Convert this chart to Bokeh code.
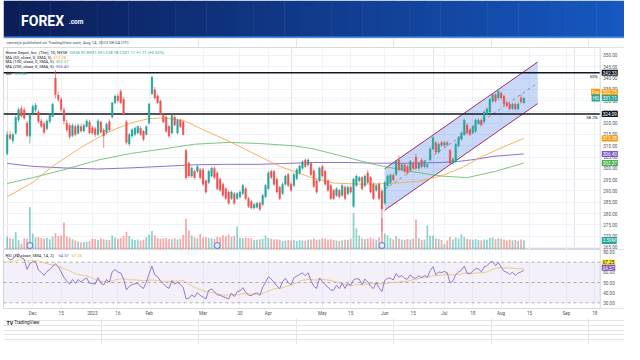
import numpy as np
import pandas as pd
from bokeh.plotting import figure
from bokeh.layouts import column
from bokeh.models import (Range1d, FixedTicker, SingleIntervalTicker, NumeralTickFormatter,
                          Label, Span, Grid, BoxAnnotation)
from bokeh.embed import file_html
from bokeh.resources import INLINE
from bokeh.core.properties import value

# ---------------- data ----------------
first_day = "2022-11-17"
last_axis_day = "2023-09-29"
holidays = ["2022-11-24", "2022-12-26", "2023-01-02", "2023-01-16", "2023-02-20",
            "2023-04-07", "2023-05-29", "2023-06-19", "2023-07-04", "2023-09-04"]

opens = [306.5, 315.0, 312.2, 315.5, 321.5, 326.5, 325.8, 320.0, 314.2, 324.5,
         325.8, 325.0, 321.0, 319.8, 317.5, 320.8, 323.0, 340.0, 332.5, 330.5,
         326.0, 320.0, 319.0, 314.5, 318.5, 315.5, 318.5, 316.5, 318.5, 320.5,
         318.0, 317.5, 315.0, 320.5, 317.0, 316.0, 320.6, 322.7, 329.0, 332.0,
         334.0, 330.5, 320.6, 310.8, 314.3, 315.0, 315.7, 317.8, 316.4, 315.0,
         320.0, 333.0, 334.8, 332.0, 329.8, 323.5, 322.7, 318.5, 315.7, 322.7,
         315.7, 321.3, 320.6, 307.9, 302.3, 296.6, 298.7, 298.7, 299.4, 299.4,
         294.5, 293.8, 296.6, 300.0, 298.0, 295.2, 293.0, 291.0, 289.5, 286.7,
         288.8, 286.7, 287.4, 288.9, 291.0, 286.7, 285.3, 282.5, 282.8, 284.6,
         284.0, 287.4, 291.0, 298.7, 298.7, 295.2, 291.7, 288.9, 293.0, 297.3,
         293.0, 292.4, 295.5, 298.0, 300.1, 303.7, 301.5, 302.3, 299.0, 294.5,
         294.5, 300.8, 298.7, 294.5, 292.4, 290.3, 288.0, 290.3, 288.1, 291.7,
         288.8, 291.7, 283.2, 292.4, 294.5, 296.0, 292.4, 298.0, 296.0, 293.0,
         290.3, 293.0, 290.0, 284.6, 292.4, 293.8, 297.0, 297.3, 303.7, 299.4,
         301.6, 300.8, 299.4, 302.3, 305.0, 300.1, 303.7, 300.8, 300.8, 303.7,
         308.6, 311.4, 307.2, 311.5, 310.2, 311.4, 308.0, 302.3, 303.0, 310.0,
         312.9, 315.0, 319.2, 317.0, 315.7, 316.4, 320.0, 321.3, 320.6, 324.2,
         324.9, 329.8, 332.6, 331.2, 333.3, 331.9, 329.1, 328.4, 326.5, 328.4,
         326.3, 331.2, 328.9]
highs = [316.4, 316.5, 315.8, 323.5, 327.0, 327.8, 327.0, 321.0, 324.6, 328.2,
         329.0, 326.0, 322.0, 320.5, 321.8, 324.5, 329.0, 343.5, 334.0, 331.5,
         327.0, 321.5, 319.8, 319.8, 319.5, 319.8, 319.6, 319.8, 321.8, 321.5,
         318.8, 318.5, 321.8, 321.2, 317.8, 320.2, 321.5, 329.5, 332.6, 333.0,
         335.0, 331.5, 321.5, 315.6, 317.8, 318.5, 319.0, 318.6, 317.0, 319.0,
         329.0, 341.0, 336.0, 333.0, 330.5, 324.5, 323.5, 319.2, 324.2, 323.5,
         322.0, 322.0, 321.2, 308.6, 303.0, 300.8, 299.5, 301.5, 300.2, 300.2,
         295.0, 299.5, 300.8, 301.0, 298.8, 296.0, 293.8, 291.8, 290.2, 290.2,
         289.5, 289.5, 290.2, 293.2, 291.8, 287.4, 286.0, 284.8, 285.3, 285.3,
         288.8, 293.0, 298.8, 299.5, 299.4, 295.9, 292.4, 293.8, 297.3, 298.0,
         293.8, 298.0, 300.1, 301.6, 303.6, 304.4, 304.4, 303.0, 299.8, 295.2,
         300.8, 301.6, 299.4, 295.2, 293.0, 291.0, 291.7, 291.0, 293.0, 292.4,
         292.4, 292.4, 295.9, 297.3, 296.6, 296.6, 297.3, 299.4, 296.6, 293.8,
         293.0, 293.8, 290.8, 294.5, 297.3, 297.7, 297.7, 303.7, 305.8, 302.3,
         302.3, 301.6, 303.7, 303.0, 306.5, 303.0, 304.4, 303.7, 302.3, 309.3,
         314.3, 312.1, 311.4, 312.2, 312.1, 312.1, 308.6, 304.7, 311.4, 314.3,
         316.4, 322.0, 320.0, 317.8, 319.2, 322.0, 322.0, 322.0, 325.6, 327.0,
         331.2, 333.3, 333.3, 335.0, 334.0, 332.6, 329.8, 329.1, 329.1, 329.1,
         329.1, 332.6, 331.6]
lows = [305.8, 312.5, 311.0, 315.0, 320.5, 322.5, 321.5, 313.8, 311.0, 323.5,
        324.8, 320.0, 317.8, 315.2, 316.8, 320.0, 322.5, 331.0, 329.5, 325.0,
        319.5, 316.0, 313.0, 313.8, 314.2, 315.0, 315.8, 316.0, 318.0, 315.0,
        314.8, 314.0, 314.5, 315.5, 309.0, 315.0, 316.2, 322.0, 328.5, 329.2,
        328.5, 323.5, 310.5, 310.0, 313.5, 314.2, 315.0, 314.4, 312.0, 314.5,
        319.5, 332.5, 330.5, 328.5, 323.5, 320.0, 315.8, 313.6, 315.0, 318.5,
        315.0, 317.8, 314.5, 295.2, 295.8, 295.8, 295.2, 298.0, 295.2, 292.2,
        288.8, 293.0, 296.0, 295.2, 290.2, 289.6, 287.4, 286.0, 283.8, 286.0,
        283.8, 286.0, 286.6, 288.2, 286.0, 282.5, 281.8, 281.8, 282.2, 281.2,
        283.2, 286.8, 290.5, 295.3, 292.2, 288.8, 286.0, 288.2, 292.4, 291.7,
        289.6, 291.7, 294.8, 297.3, 299.4, 300.1, 300.8, 296.6, 291.3, 288.8,
        293.8, 295.9, 292.4, 289.6, 286.0, 286.0, 287.4, 286.8, 287.4, 286.0,
        288.1, 288.8, 282.5, 291.7, 293.8, 290.3, 291.7, 293.1, 288.8, 286.0,
        289.6, 286.0, 272.0, 283.9, 291.7, 293.1, 294.3, 296.6, 298.7, 298.7,
        298.0, 297.3, 298.7, 299.4, 299.4, 299.4, 300.1, 300.1, 300.1, 303.0,
        307.9, 306.5, 306.5, 309.5, 309.5, 309.8, 301.6, 301.6, 302.3, 309.3,
        312.2, 314.3, 315.0, 314.3, 315.0, 315.7, 319.3, 318.5, 319.9, 323.5,
        324.2, 329.1, 329.1, 330.5, 330.5, 327.7, 327.0, 325.6, 325.8, 325.6,
        325.6, 328.7, 328.8]
closes = [315.0, 313.2, 315.0, 322.5, 326.0, 323.2, 322.2, 314.5, 324.0, 327.5,
          328.0, 320.8, 318.6, 316.0, 321.0, 323.5, 328.4, 332.7, 330.5, 326.0,
          321.0, 317.0, 314.0, 319.0, 315.0, 319.0, 316.5, 319.0, 321.0, 315.7,
          315.7, 315.0, 321.0, 316.0, 314.3, 319.5, 317.0, 329.0, 332.0, 330.0,
          329.0, 324.0, 311.5, 315.0, 317.1, 317.8, 318.5, 315.0, 312.9, 318.5,
          328.5, 340.3, 331.2, 329.0, 324.0, 320.5, 316.4, 314.3, 323.5, 319.2,
          321.3, 318.5, 315.0, 295.9, 296.6, 300.1, 295.9, 300.8, 295.9, 293.0,
          289.5, 298.7, 300.1, 296.0, 291.0, 290.3, 288.1, 286.7, 284.6, 289.5,
          284.6, 288.8, 289.5, 292.4, 286.7, 283.2, 282.5, 284.0, 284.6, 281.8,
          288.0, 292.4, 298.0, 296.0, 293.0, 289.5, 286.7, 293.0, 296.6, 292.4,
          290.3, 297.3, 299.4, 301.0, 302.9, 300.8, 303.7, 297.3, 292.0, 289.5,
          300.1, 296.6, 293.0, 290.3, 286.7, 286.7, 291.0, 287.4, 292.4, 286.7,
          291.7, 289.5, 295.2, 296.6, 296.0, 291.0, 296.6, 293.8, 289.5, 286.7,
          292.4, 286.7, 282.0, 293.8, 296.6, 297.0, 295.0, 303.0, 299.4, 301.6,
          298.7, 298.0, 303.0, 300.1, 300.1, 302.3, 300.8, 303.0, 301.6, 308.6,
          313.6, 307.2, 310.7, 310.2, 311.4, 310.5, 302.3, 304.0, 310.7, 313.6,
          315.7, 321.3, 315.7, 315.0, 318.5, 321.3, 321.3, 319.2, 324.9, 326.3,
          330.5, 332.6, 329.8, 334.1, 331.2, 328.4, 327.7, 326.3, 328.4, 326.3,
          328.4, 329.4, 331.11]
volumes_m = [5.2, 4.6, 4.3, 7.0, 3.8, 2.2, 4.5, 4.4, 17.0, 6.4,
             4.8, 5.0, 4.6, 4.3, 4.7, 4.1, 5.2, 6.6, 5.4, 5.6,
             10.8, 5.2, 4.8, 4.1, 3.6, 3.2, 2.8, 3.0, 3.1, 3.3,
             4.4, 4.2, 3.8, 4.5, 4.1, 3.9, 3.8, 5.6, 4.8, 4.3,
             4.6, 5.3, 7.0, 5.4, 4.1, 3.8, 4.0, 3.6, 3.9, 4.9,
             5.9, 7.4, 5.6, 4.6, 4.3, 4.4, 4.6, 4.2, 4.1, 4.5,
             4.0, 4.3, 5.8, 12.3, 7.6, 5.6, 4.9, 4.5, 6.2, 4.8,
             5.0, 4.7, 4.4, 4.3, 5.1, 4.9, 5.7, 5.3, 6.0, 5.1,
             5.5, 9.2, 4.7, 4.5, 4.8, 4.6, 4.4, 3.8, 3.9, 4.1,
             4.2, 5.6, 4.6, 4.3, 4.0, 4.1, 3.9, 3.4, 3.6, 3.8,
             3.5, 3.7, 3.4, 3.8, 3.6, 3.5, 3.9, 4.0, 4.4, 3.9,
             4.0, 4.5, 4.3, 4.0, 4.1, 3.8, 3.6, 3.4, 3.7, 3.9,
             3.8, 4.3, 14.6, 8.5, 5.6, 4.5, 4.2, 4.4, 4.7, 4.3,
             3.9, 4.8, 12.5, 6.4, 5.6, 4.6, 4.0, 5.3, 4.4, 4.0,
             3.8, 4.2, 4.0, 4.4, 12.0, 4.6, 3.9, 4.0, 9.6, 5.5,
             5.5, 4.4, 4.2, 3.8, 2.3, 3.6, 5.0, 4.0, 4.8, 4.4,
             6.0, 5.0, 4.3, 4.1, 3.9, 4.2, 3.8, 3.7, 4.0, 3.9,
             4.6, 4.8, 4.1, 4.5, 4.2, 4.0, 3.6, 3.9, 3.7, 3.8,
             3.5, 4.0, 3.59]
# closes of Oct 19 - Nov 16 2022, only used to start the RSI
warmup_closes = [275.0, 274.0, 281.0, 285.0, 291.0, 289.0, 289.0, 296.0, 296.0,
                 296.0, 289.0, 286.0, 291.0, 294.0, 296.0, 290.0, 304.0, 306.0, 303.0, 306.0, 305.0]

ma50_idx = [0, 9, 16, 26, 35, 43, 50, 55, 62, 69, 78, 87, 96, 107, 115, 125, 135, 145, 153, 160, 167, 175, 182]
ma50_val = [287.4, 293.8, 300.9, 309.3, 315.7, 319.9, 322.1, 322.3, 321.3, 317.1, 312.1, 306.5,
            300.9, 296.0, 293.5, 293.0, 293.3, 294.3, 296.7, 300.2, 305.1, 309.6, 313.28]
ma100_idx = [0, 9, 20, 32, 43, 55, 66, 78, 89, 101, 108, 119, 130, 142, 153, 162, 172, 182]
ma100_val = [293.3, 295.9, 299.4, 303.7, 306.5, 308.6, 310.7, 311.5, 311.0, 310.0, 308.6, 305.1,
             301.5, 298.7, 296.6, 295.9, 298.7, 302.37]
ma200_idx = [0, 9, 20, 32, 43, 55, 66, 78, 89, 101, 108, 119, 130, 142, 153, 159, 165, 171, 182]
ma200_val = [302.2, 300.9, 300.2, 299.7, 300.2, 300.9, 301.6, 301.8, 301.8, 302.3, 302.6, 302.6,
             302.3, 302.3, 302.6, 303.1, 304.0, 305.3, 306.40]

fib_levels = [342.33, 324.09]
fib_names = ["50%", "38.2%"]
last_close = 331.11
pre_price = 333.75
channel_idx = [133.0, 186.9]
channel_lower = [281.5, 328.7]
channel_upper = [299.9, 347.1]
dividend_dates = ["2022-11-30", "2023-03-08", "2023-05-31"]
tick_dates = ["2022-12-01", "2022-12-15", "2023-01-03", "2023-01-16", "2023-02-01", "2023-03-01",
              "2023-03-20", "2023-04-03", "2023-05-01", "2023-05-15", "2023-06-01", "2023-06-15",
              "2023-07-03", "2023-07-18", "2023-08-01", "2023-08-15", "2023-09-01", "2023-09-18"]
tick_labels = ["Dec", "15", "2023", "16", "Feb", "Mar", "20", "Apr", "May", "15", "Jun", "15",
               "Jul", "18", "Aug", "15", "Sep", "18"]
rsi_last, rsi_ma_last = 64.57, 67.25

assert len(opens) == len(highs) == len(lows) == len(closes) == len(volumes_m) == 183

# ---------------- derived ----------------
dates = pd.bdate_range(first_day, last_axis_day)
dates = dates[~dates.isin(pd.to_datetime(holidays))]
tick_idx = [int(dates.searchsorted(pd.Timestamp(d))) for d in tick_dates]
div_idx = [int(dates.searchsorted(pd.Timestamp(d))) for d in dividend_dates]
n = len(closes)
xs = list(range(n))
up = [c >= o for o, c in zip(opens, closes)]
UP, DN = "#26a69a", "#ef5350"
col = [UP if u else DN for u in up]

allc = np.array(warmup_closes + closes, dtype=float)
d = np.diff(allc)
gain = np.where(d > 0, d, 0.0)
loss = np.where(d < 0, -d, 0.0)
N = 14
ag, al = gain[:N].mean(), loss[:N].mean()
rsi_full = [100 - 100 / (1 + ag / al)]
for g, l in zip(gain[N:], loss[N:]):
    ag = (ag * (N - 1) + g) / N
    al = (al * (N - 1) + l) / N
    rsi_full.append(100 - 100 / (1 + ag / al))
skip = len(warmup_closes) - N
rsi = rsi_full[skip:]
rsi_ma = list(pd.Series(rsi_full).rolling(14, min_periods=1).mean().values[skip:])

# ---------------- layout constants ----------------
FONT = "Roboto"
W = 624
SX, SY = 624 / 640, 344 / 360
X0, X1, XE = -1.3, 208.9, 217.45      # frame start, price-axis line, frame end
P0, P1 = 264.1, 353.5
R0, R1 = 24.4, 82.5
TXT = "#131722"
AX = "#50535e"
GRID = "#f0f3fa"
BORDER = "#d6d9e0"


def tw(s, size):
    w = 0.0
    for ch in s:
        if ch.isdigit():
            w += 0.56
        elif ch.isupper():
            w += 0.64
        elif ch.islower():
            w += 0.5
        elif ch == " ":
            w += 0.25
        elif ch in ".,:;()":
            w += 0.27
        elif ch == "%":
            w += 0.73
        else:
            w += 0.56
    return w * size


def flabel(fig, px, py, text, color, size, bold=False):
    # px, py: screen offsets from the frame's top-left corner
    fig.add_layout(Label(x=fig.x_range.start, y=fig.y_range.end, x_offset=px, y_offset=-py,
                         text=text, text_color=color, text_font=FONT, text_font_size=f"{size}px",
                         text_font_style="bold" if bold else "normal",
                         text_baseline="middle", text_align="left"))


def tag(fig, y, text, bg, fg="white", left=None, left_bg=None, y_range_name="default", dy=0):
    fig.add_layout(Label(x=X1, y=y, x_offset=1.5, y_offset=dy, text=text, text_color=fg, text_font=FONT,
                         text_font_size="4.6px", text_baseline="middle", text_align="left",
                         background_fill_color=bg, background_fill_alpha=1.0, padding=1,
                         y_range_name=y_range_name))
    if left:
        fig.add_layout(Label(x=X1, y=y, x_offset=-0.3, y_offset=dy, text=left, text_color=fg, text_font=FONT,
                             text_font_size="4.6px", text_baseline="middle", text_align="right",
                             background_fill_color=left_bg or bg, background_fill_alpha=1.0, padding=1,
                             y_range_name=y_range_name))


def style_price_axis(ax, ticker):
    ax.ticker = ticker
    ax.formatter = NumeralTickFormatter(format="0.00")
    ax.fixed_location = X1
    ax.major_label_text_font = FONT
    ax.major_label_text_font_size = "4.6px"
    ax.major_label_text_color = AX
    ax.major_tick_line_color = None
    ax.minor_tick_line_color = None
    ax.major_tick_out = 0
    ax.minor_tick_out = 0
    ax.axis_line_color = None
    ax.major_label_standoff = 3


# ---------------- header ----------------
head = figure(frame_width=W, frame_height=47, x_range=Range1d(0, 640), y_range=Range1d(49, 0),
              output_backend="svg", toolbar_location=None, x_axis_location=None, y_axis_location=None,
              min_border=0, outline_line_color=None, background_fill_color="white", border_fill_color="white")
c0, c1 = np.array([12, 30, 88]), np.array([22, 88, 192])
steps = 40
for i in range(steps):
    t = i / (steps - 1)
    r, g_, b = (c0 + (c1 - c0) * t).astype(int)
    head.quad(left=i * 16, right=(i + 1) * 16 + 0.5, top=0, bottom=38, fill_color=f"#{r:02x}{g_:02x}{b:02x}",
              line_color=None)
head.quad(left=0, right=640, top=37.6, bottom=39.0, fill_color="#4a8ee0", line_color=None)
head.text(x=[18], y=[21], text=["FOREX"], text_font=value(FONT), text_font_size="14px",
          text_font_style="bold", text_color="white", text_baseline="middle")
head.text(x=[67], y=[22.5], text=[".com"], text_font=value(FONT), text_font_size="6.5px",
          text_font_style="bold", text_color="white", text_baseline="middle")
head.text(x=[3], y=[44.3], text=["varnerjs published on TradingView.com, Aug 14, 2023 08:04 UTC"],
          text_font=value(FONT), text_font_size="4.3px", text_color="#4a4d57", text_baseline="middle")

# ---------------- main price pane ----------------
main = figure(frame_width=W - 3, frame_height=202, x_range=Range1d(X0, XE), y_range=Range1d(P0, P1),
              output_backend="svg", toolbar_location=None, x_axis_location=None, y_axis_location="right",
              min_border_left=3, min_border_right=0, min_border_top=0, min_border_bottom=0,
              outline_line_color=BORDER, background_fill_color="white", border_fill_color="white")
style_price_axis(main.yaxis[0], SingleIntervalTicker(interval=5, num_minor_ticks=0))
main.ygrid.grid_line_color = GRID
main.add_layout(Grid(dimension=0, ticker=FixedTicker(ticks=tick_idx), grid_line_color=GRID))
main.quad(left=X1, right=XE, bottom=P0, top=P1, fill_color="white", line_color=None)
main.add_layout(Span(location=X1, dimension="height", line_color=BORDER, line_width=1))

main.extra_y_ranges = {"vol": Range1d(0, 81)}
main.vbar(x=xs, top=volumes_m, bottom=0, width=0.62, fill_color=col, fill_alpha=0.5, line_color=None,
          y_range_name="vol")

# channel
main.patch(x=[channel_idx[0], channel_idx[1], channel_idx[1], channel_idx[0]],
           y=[channel_lower[0], channel_lower[1], channel_upper[1], channel_upper[0]],
           fill_color="#4a7fe0", fill_alpha=0.3, line_color=None)
main.line(channel_idx, channel_lower, line_color="#9c2f6b", line_width=1)
main.line(channel_idx, channel_upper, line_color="#9c2f6b", line_width=1)
main.line(channel_idx, [(a + b) / 2 for a, b in zip(channel_lower, channel_upper)],
          line_color="#7b7f8a", line_width=0.8, line_dash="3 3")

# moving averages
main.line(ma200_idx, ma200_val, line_color="#7e57c2", line_width=1, line_alpha=0.85)
main.line(ma100_idx, ma100_val, line_color="#66bb6a", line_width=1, line_alpha=0.85)
main.line(ma50_idx, ma50_val, line_color="#f5a742", line_width=1, line_alpha=0.85)

# fib levels & last-price line (stop at the price axis)
for lv in fib_levels:
    main.line([X0, X1], [lv, lv], line_color=TXT, line_width=1.4)
main.line([X0, X1], [last_close, last_close], line_color="#c3c7cf", line_width=0.8, line_dash="1 2")

# candles
main.segment(x0=xs, y0=lows, x1=xs, y1=highs, line_color=col, line_width=0.7)
main.vbar(x=xs, top=[max(o, c) for o, c in zip(opens, closes)],
          bottom=[min(o, c) for o, c in zip(opens, closes)],
          width=0.62, fill_color=col, line_color=col, line_width=0.3)

# dividend markers
main.scatter(x=div_idx, y=[1.6] * len(div_idx), y_range_name="vol", size=6, marker="circle",
             fill_color="#e3ecfb", line_color="#3f6fd1", line_width=0.9)

# legend
LS = 4.2
y1, y2, y3, y4, y5 = [(v - 49) * SY for v in (54, 59, 64, 69, 76.6)]
x_l = (5 - 3) * SX
t1 = "Home Depot, Inc. (The), 1D, NYSE"
flabel(main, x_l, y1, t1, TXT, LS)
flabel(main, x_l + tw(t1, LS) + 2.5, y1, "O328.92 H331.59 L328.78 C331.11 +1.71 (+0.52%)", UP, LS)
for yy, t, v, c in [(y2, "MA (50, close, 0, SMA, 5)", "313.28", "#ff9800"),
                    (y3, "MA (100, close, 0, SMA, 5)", "302.37", "#4caf50"),
                    (y4, "MA (200, close, 0, SMA, 5)", "306.40", "#7e57c2")]:
    flabel(main, x_l, yy, t, TXT, LS)
    flabel(main, x_l + tw(t, LS) + 2.5, yy, v, c, LS)
flabel(main, x_l, y5, "Vol", TXT, LS)
flabel(main, x_l + tw("Vol", LS) + 2.5, y5, "3.59M", UP, LS)

for lv, nm in zip(fib_levels, fib_names):
    main.add_layout(Label(x=X1, y=lv, x_offset=-2.5, y_offset=-3.4, text=nm, text_color=TXT, text_font=FONT,
                          text_font_size="4.3px", text_baseline="middle", text_align="right"))

# axis tags
tag(main, fib_levels[0], f"{fib_levels[0]:.2f}", TXT)
tag(main, pre_price, f"{pre_price:.2f}", "#ff9800", left="Pre")
tag(main, last_close, f"{last_close:.2f}", UP, left="HD")
tag(main, fib_levels[1], f"{fib_levels[1]:.2f}", TXT)
tag(main, ma50_val[-1], f"{ma50_val[-1]:.2f}", "#ff9800")
tag(main, ma200_val[-1], f"{ma200_val[-1]:.2f}", "#7e57c2")
tag(main, ma100_val[-1], f"{ma100_val[-1]:.2f}", "#4caf50")
tag(main, volumes_m[-1], f"{volumes_m[-1]:.2f}M", UP, y_range_name="vol")

# ---------------- RSI pane ----------------
rp = figure(frame_width=W - 3, frame_height=59, x_range=main.x_range, y_range=Range1d(R0, R1),
            output_backend="svg", toolbar_location=None, x_axis_location="below", y_axis_location="right",
            min_border_left=3, min_border_right=0, min_border_top=0, min_border_bottom=10,
            outline_line_color=BORDER, background_fill_color="white", border_fill_color="white")
style_price_axis(rp.yaxis[0], FixedTicker(ticks=[30, 40, 50, 60, 70, 80]))
rx = rp.xaxis[0]
rx.ticker = FixedTicker(ticks=tick_idx)
rx.major_label_overrides = {int(i): lab for i, lab in zip(tick_idx, tick_labels)}
rx.major_label_text_font = FONT
rx.major_label_text_font_size = "4.6px"
rx.major_label_text_color = AX
rx.major_tick_line_color = None
rx.minor_tick_line_color = None
rx.major_tick_out = 0
rx.major_tick_in = 0
rx.minor_tick_out = 0
rx.minor_tick_in = 0
rx.axis_line_color = None
rx.major_label_standoff = 2
rp.xgrid.grid_line_color = GRID
rp.ygrid.grid_line_color = None
rp.quad(left=X1, right=XE, bottom=R0, top=R1, fill_color="white", line_color=None)
rp.add_layout(Span(location=X1, dimension="height", line_color=BORDER, line_width=1))

rp.add_layout(BoxAnnotation(left=X0, right=X1, bottom=30, top=70, fill_color="#7e57c2", fill_alpha=0.09,
                            line_color=None))
for lv in (70, 50, 30):
    rp.line([X0, X1], [lv, lv], line_color="#8f929b", line_width=0.7, line_dash="3 3")
rp.line(xs, rsi_ma, line_color="#f2cc60", line_width=1, line_alpha=0.8)
rp.line(xs, rsi, line_color="#8a70c8", line_width=0.9)

t_r = "RSI (14, close, SMA, 14, 2)"
yr = (266.7 - 260) * SY
flabel(rp, x_l, yr, t_r, TXT, LS)
xv = x_l + tw(t_r, LS) + 2.5
flabel(rp, xv, yr, f"{rsi_last:.2f}", "#7e57c2", LS)
flabel(rp, xv + tw("64.57", LS) + 2.5, yr, f"{rsi_ma_last:.2f}", "#e0b000", LS)
tag(rp, rsi_ma_last, f"{rsi_ma_last:.2f}", "#ffeb3b", fg=TXT, dy=2.5)
tag(rp, rsi_last, f"{rsi_last:.2f}", "#7e57c2")

# ---------------- footer ----------------
foot = figure(frame_width=W, frame_height=26, x_range=Range1d(0, 640), y_range=Range1d(360, 332.8),
              output_backend="svg", toolbar_location=None, x_axis_location=None, y_axis_location=None,
              min_border=0, outline_line_color=None, background_fill_color="white", border_fill_color="white")
foot.text(x=[3], y=[337], text=["TV"], text_font=value(FONT), text_font_size="5.2px",
          text_font_style="bold", text_color=TXT, text_baseline="middle")
foot.text(x=[11], y=[337], text=["TradingView"], text_font=value(FONT), text_font_size="4.6px",
          text_color=TXT, text_baseline="middle")

layout = column(head, main, rp, foot, spacing=0)
open("out.html", "w").write(file_html(layout, INLINE))
